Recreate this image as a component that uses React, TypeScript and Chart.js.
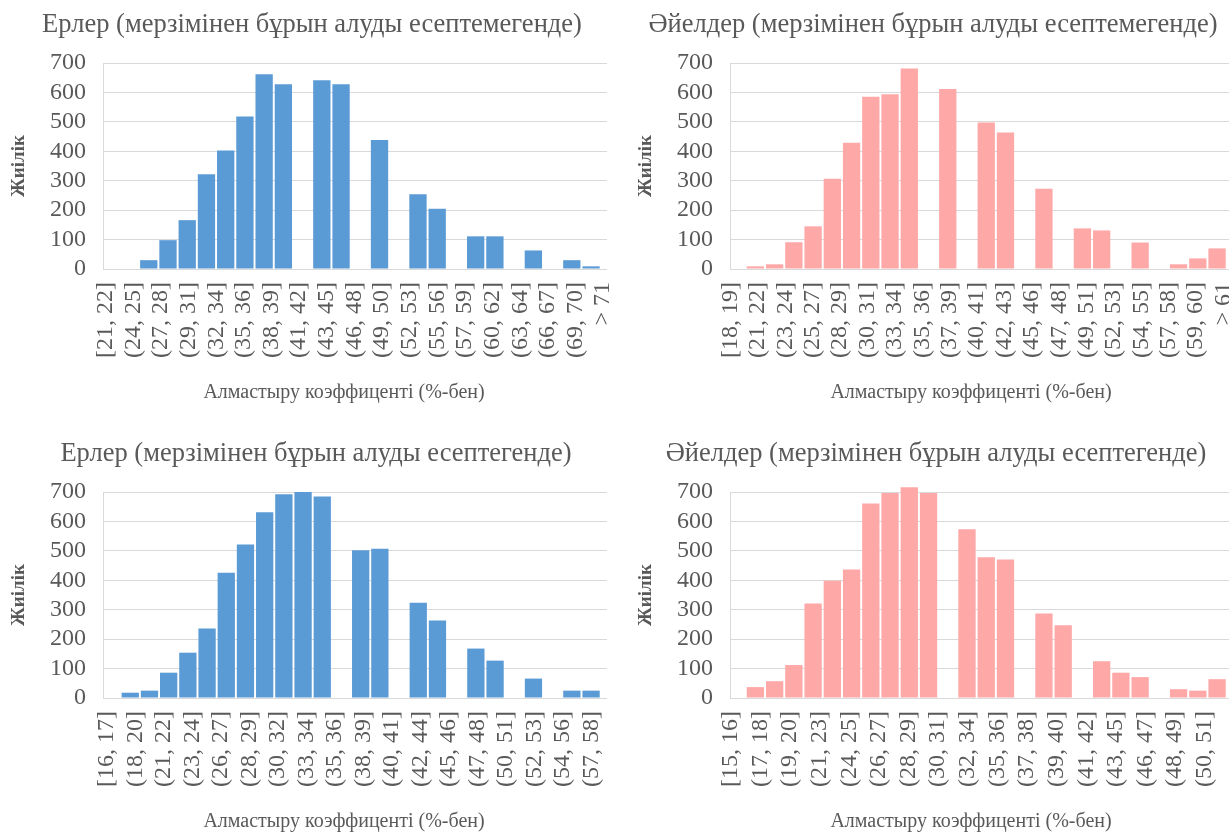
import React, { useEffect, useRef } from "react";
import { Chart, registerables } from "chart.js";

Chart.register(...registerables);

// ---- Data ----
const xAxisTitle = "Алмастыру коэффиценті (%-бен)";
const yAxisTitle = "Жиілік";

const menNoEarlyTitle = "Ерлер (мерзімінен бұрын алуды есептемегенде)";
const menNoEarlyBins = [
  "[21, 22]", "(24, 25]", "(27, 28]", "(29, 31]", "(32, 34]", "(35, 36]", "(38, 39]",
  "(41, 42]", "(43, 45]", "(46, 48]", "(49, 50]", "(52, 53]", "(55, 56]", "(57, 59]",
  "(60, 62]", "(63, 64]", "(66, 67]", "(69, 70]", "> 71",
];
const menNoEarlyCounts = [
  0, 0, 30, 98, 166, 322, 403, 518, 662, 628, 0, 641, 628, 0, 438, 0, 254, 205, 0, 111,
  111, 0, 63, 0, 30, 9,
];

const womenNoEarlyTitle = "Әйелдер (мерзімінен бұрын алуды есептемегенде)";
const womenNoEarlyBins = [
  "[18, 19]", "(21, 22]", "(23, 24]", "(25, 27]", "(28, 29]", "(30, 31]", "(33, 34]",
  "(35, 36]", "(37, 39]", "(40, 41]", "(42, 43]", "(45, 46]", "(47, 48]", "(49, 51]",
  "(52, 53]", "(54, 55]", "(57, 58]", "(59, 60]", "> 61",
];
const womenNoEarlyCounts = [
  0, 9, 16, 91, 145, 307, 429, 585, 594, 681, 0, 612, 0, 498, 464, 0, 273, 0, 138, 131,
  0, 90, 0, 16, 36, 70,
];

const menEarlyTitle = "Ерлер (мерзімінен бұрын алуды есептегенде)";
const menEarlyBins = [
  "[16, 17]", "(18, 20]", "(21, 22]", "(23, 24]", "(26, 27]", "(28, 29]", "(30, 32]",
  "(33, 34]", "(35, 36]", "(38, 39]", "(40, 41]", "(42, 44]", "(45, 46]", "(47, 48]",
  "(50, 51]", "(52, 53]", "(54, 56]", "(57, 58]",
];
const menEarlyCounts = [
  0, 18, 25, 86, 154, 236, 426, 522, 631, 692, 700, 685, 0, 502, 507, 0, 324, 263, 0, 168,
  127, 0, 66, 0, 25, 25,
];

const womenEarlyTitle = "Әйелдер (мерзімінен бұрын алуды есептегенде)";
const womenEarlyBins = [
  "[15, 16]", "(17, 18]", "(19, 20]", "(21, 23]", "(24, 25]", "(26, 27]", "(28, 29]",
  "(30, 31]", "(32, 34]", "(35, 36]", "(37, 38]", "(39, 40]", "(41, 42]", "(43, 45]",
  "(46, 47]", "(48, 49]", "(50, 51]",
];
const womenEarlyCounts = [
  0, 37, 57, 112, 321, 398, 437, 661, 697, 716, 697, 0, 573, 478, 471, 0, 287, 247, 0, 125,
  86, 71, 0, 30, 25, 64,
];

const yTicks = [0, 100, 200, 300, 400, 500, 600, 700];

// ---- Styles ----
const FONT = "'Liberation Serif', 'Times New Roman', serif";
const TEXT = "#595959";
const GRID = "#D9D9D9";
const BLUE = "#5B9BD5";
const PINK = "#FFA8A8";

const CANVAS_W = 610;
const CANVAS_H = 408;

// draws the panel title and the x-axis title as canvas text
const panelText = {
  id: "panelText",
  afterDraw(chart: any, _args: any, opts: any) {
    const ctx = chart.ctx as CanvasRenderingContext2D;
    ctx.save();
    ctx.fillStyle = TEXT;
    ctx.textAlign = "center";
    ctx.textBaseline = "middle";
    ctx.font = `normal 26.5px ${FONT}`;
    ctx.fillText(opts.title, opts.titleX, opts.titleY);
    ctx.font = `normal 20px ${FONT}`;
    ctx.fillText(opts.xTitle, opts.xTitleX, opts.xTitleY);
    ctx.restore();
  },
};

type PanelProps = {
  title: string;
  bins: string[];
  counts: number[];
  color: string;
  titleX: number;
  barMin: number;
  barMax: number;
  labelMin: number;
  labelMax: number;
  left: number;
  top: number;
  width: number;
  height: number;
};

function Panel(p: PanelProps) {
  const ref = useRef<HTMLCanvasElement>(null);
  useEffect(() => {
    if (!ref.current) return;
    const chart = new Chart(ref.current, {
      type: "bar",
      data: {
        labels: p.counts.map((_, i) => i),
        datasets: [
          {
            data: p.counts,
            backgroundColor: p.color,
            borderWidth: 0,
            barPercentage: 0.9,
            categoryPercentage: 1,
            clip: false as any,
            xAxisID: "x",
            yAxisID: "y",
          },
        ],
      },
      plugins: [panelText as any],
      options: {
        responsive: false,
        animation: false,
        layout: { padding: { left: 0, right: 3, top: 63, bottom: 0 } },
        plugins: {
          legend: { display: false },
          tooltip: { enabled: false },
          title: { display: false },
          panelText: {
            title: p.title,
            titleX: p.titleX,
            titleY: 25.5,
            xTitle: xAxisTitle,
            xTitleX: 344,
            xTitleY: 393,
          },
        } as any,
        scales: {
          x: {
            type: "linear",
            display: false,
            offset: false,
            min: p.barMin,
            max: p.barMax,
          },
          xl: {
            type: "linear",
            position: "bottom",
            offset: false,
            min: p.labelMin,
            max: p.labelMax,
            grid: { display: false },
            border: { display: false },
            afterBuildTicks: (axis: any) => {
              axis.ticks = p.bins.map((_, i) => ({ value: i }));
            },
            ticks: {
              autoSkip: false,
              minRotation: 90,
              maxRotation: 90,
              padding: 5,
              color: TEXT,
              font: { family: FONT, size: 24 },
              callback: (v: any) => p.bins[Number(v)] ?? "",
            },
            title: { display: false },
            afterFit: (axis: any) => {
              axis.height = 139;
              axis.paddingLeft = 0;
              axis.paddingRight = 0;
            },
          } as any,
          y: {
            min: yTicks[0],
            max: yTicks[yTicks.length - 1],
            afterBuildTicks: (axis: any) => {
              axis.ticks = yTicks.map((v) => ({ value: v }));
            },
            ticks: {
              autoSkip: false,
              padding: 17,
              color: TEXT,
              font: { family: FONT, size: 24 },
            },
            grid: { color: GRID, lineWidth: 1, drawTicks: false },
            border: { display: true, color: GRID },
            title: {
              display: true,
              text: yAxisTitle,
              color: TEXT,
              font: { family: FONT, size: 19, weight: "bold" },
              padding: { top: 8, bottom: 0 },
            },
            afterFit: (axis: any) => {
              axis.width = 103;
            },
          } as any,
        },
      },
    });
    return () => chart.destroy();
  }, []);
  return (
    <div
      style={{
        position: "absolute",
        left: p.left,
        top: p.top,
        width: p.width,
        height: p.height,
        overflow: "hidden",
      }}
    >
      <canvas
        ref={ref}
        width={CANVAS_W}
        height={CANVAS_H}
        style={{ display: "block", width: CANVAS_W, height: CANVAS_H }}
      />
    </div>
  );
}

export default function App() {
  return (
    <div
      style={{
        position: "absolute",
        left: 0,
        top: 0,
        width: 1229,
        height: 833,
        overflow: "hidden",
        background: "#ffffff",
      }}
    >
      <Panel
        title={menNoEarlyTitle}
        bins={menNoEarlyBins}
        counts={menNoEarlyCounts}
        color={BLUE}
        titleX={312}
        barMin={-0.38}
        barMax={25.83}
        labelMin={-0.1}
        labelMax={18.14}
        left={0}
        top={0}
        width={609}
        height={420}
      />
      <Panel
        title={womenNoEarlyTitle}
        bins={womenNoEarlyBins}
        counts={womenNoEarlyCounts}
        color={PINK}
        titleX={306}
        barMin={-0.32}
        barMax={25.88}
        labelMin={-0.02}
        labelMax={18.38}
        left={627}
        top={0}
        width={602}
        height={420}
      />
      <Panel
        title={menEarlyTitle}
        bins={menEarlyBins}
        counts={menEarlyCounts}
        color={BLUE}
        titleX={316}
        barMin={-0.42}
        barMax={25.83}
        labelMin={-0.14}
        labelMax={17.54}
        left={0}
        top={429}
        width={612}
        height={404}
      />
      <Panel
        title={womenEarlyTitle}
        bins={womenEarlyBins}
        counts={womenEarlyCounts}
        color={PINK}
        titleX={309}
        barMin={-0.32}
        barMax={25.88}
        labelMin={-0.03}
        labelMax={16.99}
        left={627}
        top={429}
        width={602}
        height={404}
      />
    </div>
  );
}
